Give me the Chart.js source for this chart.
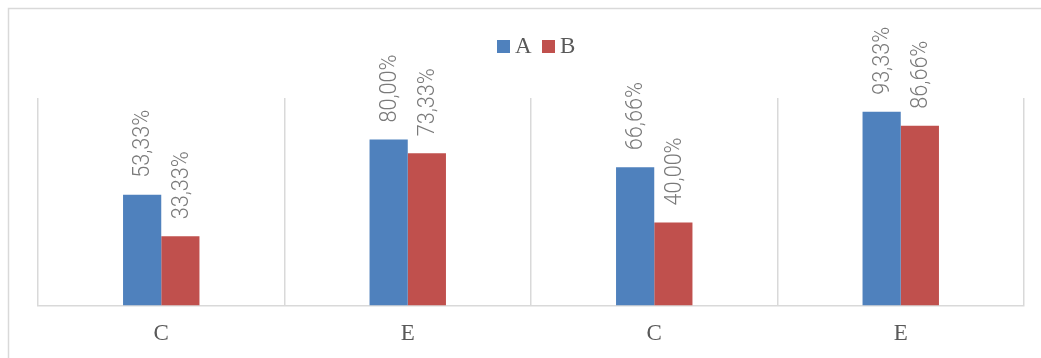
<!DOCTYPE html>
<html>
<head>
<meta charset="utf-8">
<style>
  html, body { margin: 0; padding: 0; background: #ffffff; }
  #wrap { position: relative; width: 1041px; height: 358px; }
  canvas { display: block; }
</style>
<script src="https://cdn.jsdelivr.net/npm/chart.js@4.4.1/dist/chart.umd.min.js"></script>
</head>
<body>
<div id="wrap"><canvas id="chart" width="1041" height="358"></canvas></div>
<script>
// Categories and series values (percent)
const categories = ['C', 'E', 'C', 'E'];
const seriesNames = ['A', 'B'];
const valuesA = [53.33, 80.00, 66.66, 93.33];
const valuesB = [33.33, 73.33, 40.00, 86.66];
const seriesColors = ['#4F81BD', '#C0504D'];

const serif = '"Liberation Serif", "DejaVu Serif", serif';
const labelFont = 'Roboto, "Liberation Sans", Arial, sans-serif';

function formatPct(v) {
  return v.toFixed(2).replace('.', ',') + '%';
}

// Outer frame around the chart object
const framePlugin = {
  id: 'frame',
  beforeDraw(chart) {
    const ctx = chart.ctx;
    ctx.save();
    ctx.strokeStyle = '#d9d9d9';
    ctx.lineWidth = 1.5;
    ctx.strokeRect(8.5, 8.5, 1200, 500);
    ctx.restore();
  }
};

// Rotated value labels above each bar
const valueLabels = {
  id: 'valueLabels',
  afterDatasetsDraw(chart) {
    const ctx = chart.ctx;
    ctx.save();
    ctx.font = '300 23px ' + labelFont;
    ctx.fillStyle = '#7a7a7a';
    ctx.textAlign = 'left';
    ctx.textBaseline = 'middle';
    chart.data.datasets.forEach((ds, di) => {
      const meta = chart.getDatasetMeta(di);
      meta.data.forEach((bar, i) => {
        const text = formatPct(ds.data[i]);
        const w = ctx.measureText(text).width;
        ctx.save();
        ctx.translate(bar.x + 1.5, bar.y - 17);
        ctx.rotate(-Math.PI / 2);
        // keep the label run at 68px
        ctx.scale(68 / w, 1);
        ctx.fillText(text, 0, 0);
        ctx.restore();
      });
    });
    ctx.restore();
  }
};

// Legend row drawn above the plot
const legendRow = {
  id: 'legendRow',
  afterDraw(chart) {
    const ctx = chart.ctx;
    ctx.save();
    ctx.font = '23px ' + serif;
    ctx.textBaseline = 'middle';
    ctx.textAlign = 'left';
    const boxes = [497, 542];
    chart.data.datasets.forEach((ds, di) => {
      const x = boxes[di];
      ctx.fillStyle = ds.backgroundColor;
      ctx.fillRect(x, 40, 13, 13);
      ctx.fillStyle = '#595959';
      ctx.fillText(ds.label, x + 18, 46.5);
    });
    ctx.restore();
  }
};

new Chart(document.getElementById('chart'), {
  type: 'bar',
  data: {
    labels: categories,
    datasets: [
      { label: seriesNames[0], data: valuesA, backgroundColor: seriesColors[0] },
      { label: seriesNames[1], data: valuesB, backgroundColor: seriesColors[1] }
    ]
  },
  options: {
    responsive: false,
    animation: false,
    devicePixelRatio: 1,
    layout: { padding: { left: 38, right: 17, top: 98, bottom: -5 } },
    datasets: {
      bar: { categoryPercentage: 0.31, barPercentage: 1.0, borderWidth: 0 }
    },
    plugins: {
      legend: { display: false },
      tooltip: { enabled: false }
    },
    scales: {
      x: {
        grid: { display: true, offset: true, color: '#d9d9d9', lineWidth: 1.5, drawTicks: false },
        border: { display: true, color: '#d9d9d9', width: 1.5 },
        ticks: { color: '#595959', font: { family: serif, size: 23 }, padding: 15 }
      },
      y: {
        display: false,
        min: 0,
        max: 100
      }
    }
  },
  plugins: [framePlugin, valueLabels, legendRow]
});
</script>
</body>
</html>
